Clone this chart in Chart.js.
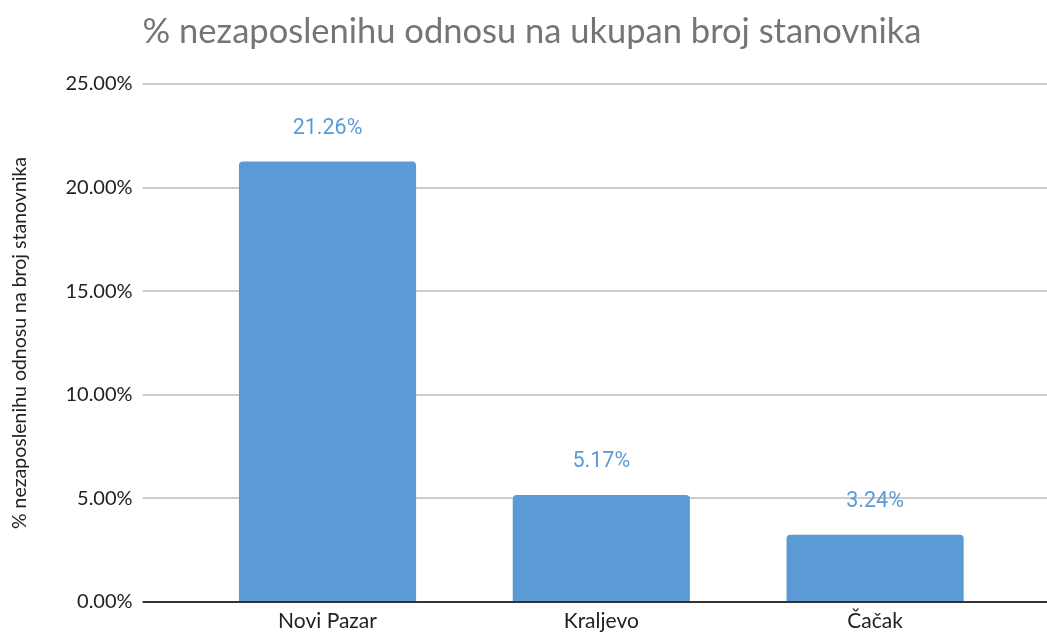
<!DOCTYPE html>
<html>
<head>
<meta charset="utf-8">
<script src="https://cdn.jsdelivr.net/npm/chart.js@4"></script>
<style>
  html, body { margin: 0; padding: 0; background: #fff; }
  #wrap { width: 1047px; height: 634px; position: relative; }
</style>
</head>
<body>
<div id="wrap"><canvas id="chart"></canvas></div>
<script>
const categories = ['Novi Pazar', 'Kraljevo', 'Čačak'];
const shares = [21.26, 5.17, 3.24];
const yTicks = [0, 5, 10, 15, 20, 25];

const chartTitle = '% nezaposlenihu odnosu na ukupan broj stanovnika';
const yTitle = '% nezaposlenihu odnosu na broj stanovnika';

const BAR = '#5b9bd5';
const GRID = '#cccccc';
const ZERO = '#333333';

const gridColor = ctx => (ctx.tick && ctx.tick.value === 0 ? ZERO : GRID);

// title drawn in line with the left end of the gridlines
const titlePlugin = {
    id: 'leftTitle',
    afterDraw(chart) {
        const y = chart.scales.y;
        const ctx = chart.ctx;
        ctx.save();
        ctx.font = '34.5px Lato';
        ctx.fillStyle = '#757575';
        ctx.textAlign = 'left';
        ctx.textBaseline = 'alphabetic';
        ctx.fillText(chartTitle, chart.chartArea.left - y.options.grid.tickLength, 43);
        ctx.restore();
    }
};

// value labels above the bars
const valueLabels = {
    id: 'valueLabels',
    afterDatasetsDraw(chart) {
        const ctx = chart.ctx;
        const meta = chart.getDatasetMeta(0);
        ctx.save();
        ctx.font = '21.5px Roboto';
        ctx.fillStyle = BAR;
        ctx.textAlign = 'center';
        ctx.textBaseline = 'middle';
        meta.data.forEach((bar, i) => {
            ctx.fillText(shares[i].toFixed(2) + '%', bar.x, bar.y - 33);
        });
        ctx.restore();
    }
};

new Chart(document.getElementById('chart'), {
    type: 'bar',
    data: {
        labels: categories,
        datasets: [{
            data: shares,
            backgroundColor: BAR,
            borderRadius: 4,
            categoryPercentage: 0.647,
            barPercentage: 1
        }]
    },
    options: {
        responsive: true,
        maintainAspectRatio: false,
        animation: false,
        layout: { padding: { top: 84, left: 0, right: 0, bottom: 0 } },
        plugins: {
            legend: { display: false },
            tooltip: { enabled: false },
            title: { display: false }
        },
        scales: {
            x: {
                grid: { display: false, drawTicks: false },
                border: { display: false },
                ticks: {
                    color: '#222',
                    font: { family: 'Lato', size: 21 },
                    padding: 7
                },
                afterFit(scale) { scale.height = 32; }
            },
            y: {
                min: 0,
                max: 25,
                afterBuildTicks(scale) { scale.ticks = yTicks.map(v => ({ value: v })); },
                grid: {
                    color: gridColor,
                    tickColor: gridColor,
                    lineWidth: 2,
                    tickWidth: 2,
                    tickLength: 48
                },
                border: { display: false },
                ticks: {
                    color: '#222',
                    font: { family: 'Lato', size: 20 },
                    padding: 10,
                    callback: v => v.toFixed(2) + '%'
                },
                title: {
                    display: true,
                    text: yTitle,
                    color: '#222',
                    font: { family: 'Lato', size: 19.5 },
                    padding: { top: 8, bottom: 0 }
                },
                afterFit(scale) { scale.width = 190.6; }
            },
            yRight: {
                position: 'right',
                min: 0,
                max: 25,
                afterBuildTicks(scale) { scale.ticks = yTicks.map(v => ({ value: v })); },
                grid: {
                    drawOnChartArea: false,
                    color: gridColor,
                    tickColor: gridColor,
                    lineWidth: 2,
                    tickWidth: 2,
                    tickLength: 36
                },
                border: { display: false },
                ticks: { display: false },
                afterFit(scale) { scale.width = 35; }
            }
        }
    },
    plugins: [titlePlugin, valueLabels]
});
</script>
</body>
</html>
